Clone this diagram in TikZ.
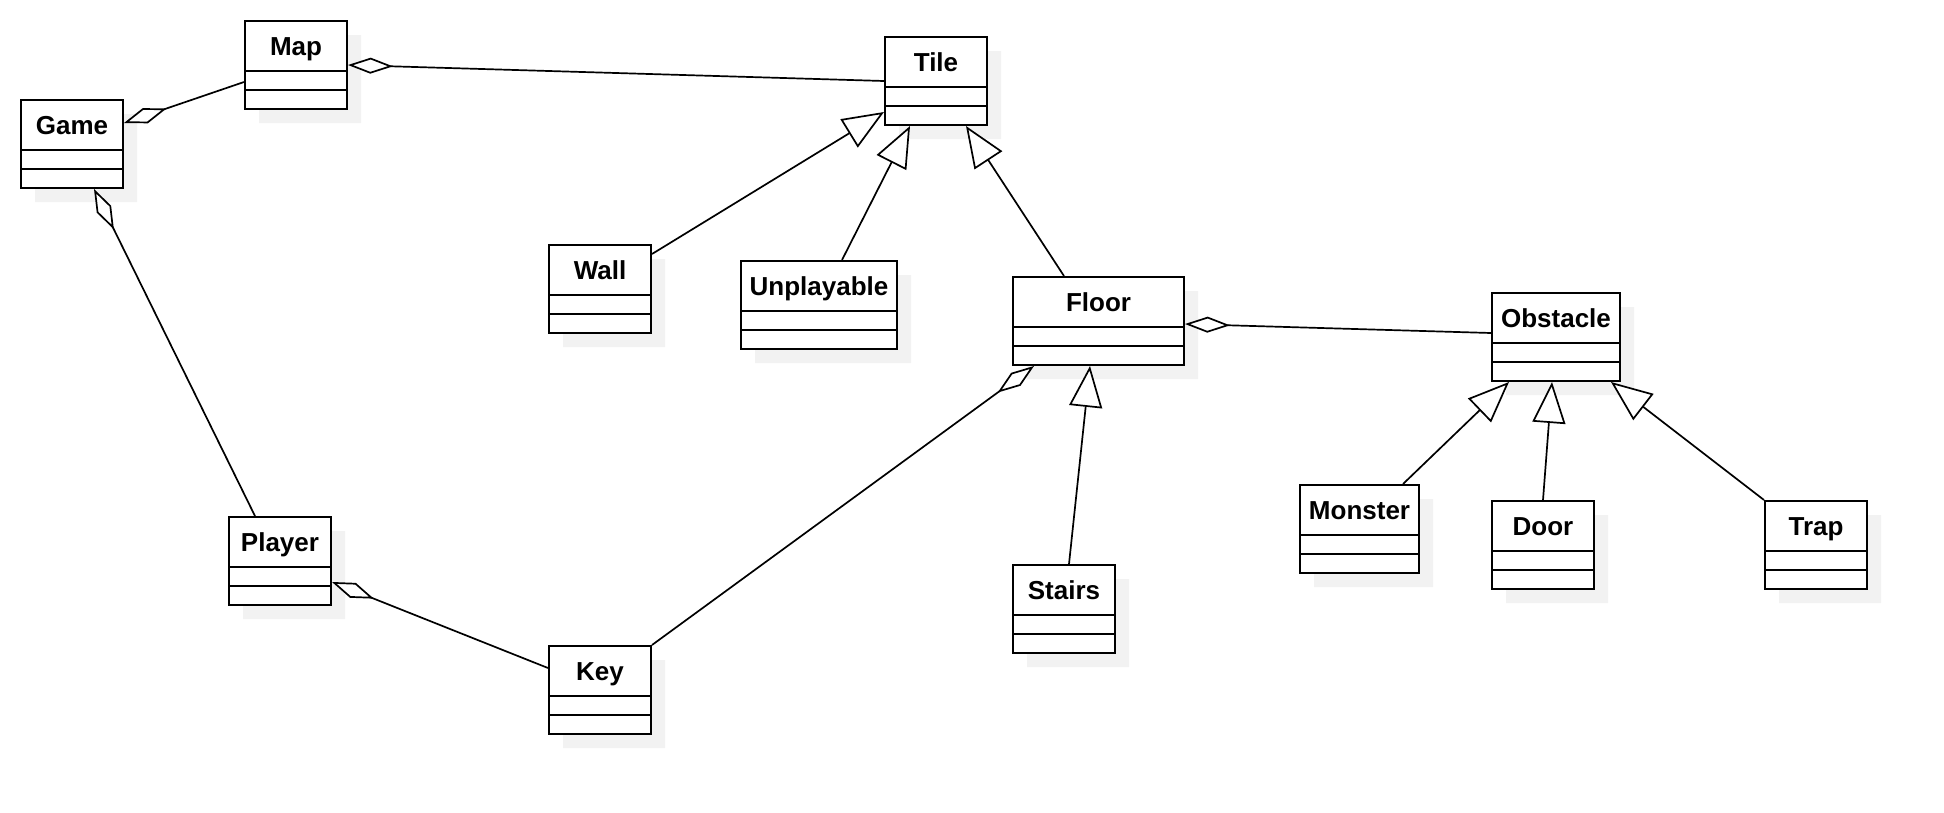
\documentclass[tikz,border=0pt]{standalone}
\usepackage{fontspec}
\setmainfont{Liberation Sans}
\usetikzlibrary{shapes.multipart,shadows,arrows.meta,calc}
\definecolor{shadowgray}{HTML}{F2F2F2}
\newcommand{\clsname}[1]{\rule[-15pt]{0pt}{48pt}#1}

\begin{document}
\begin{tikzpicture}[x=1pt, y=-1pt,
    cls/.style={rectangle split, rectangle split parts=3, draw, line width=2pt, fill=white,
      anchor=north west, inner xsep=0pt, inner ysep=0pt, minimum width=102pt,
      rectangle split empty part height=17pt, rectangle split empty part depth=0pt,
      font=\fontsize{26}{30}\selectfont\bfseries,
      drop shadow={shadow xshift=14pt, shadow yshift=-14pt, fill=shadowgray, opacity=1}},
    aggr/.style={line width=1.7pt, arrows={Diamond[fill=white,length=45pt,width=16pt]-}},
    gen/.style={line width=1.7pt, arrows={-Triangle[fill=white,length=41pt,width=33pt]}}]
        \useasboundingbox (0,0) rectangle (1944,812);

        % Classes
        \node[cls] (game) at (20,99) {\clsname{Game}\nodepart{two}\nodepart{three}};
        \node[cls] (map) at (244,20) {\clsname{Map}\nodepart{two}\nodepart{three}};
        \node[cls] (tile) at (884,36) {\clsname{Tile}\nodepart{two}\nodepart{three}};
        \node[cls] (wall) at (548,244) {\clsname{Wall}\nodepart{two}\nodepart{three}};
        \node[cls, minimum width=156pt] (unplayable) at (740,260) {\clsname{Unplayable}\nodepart{two}\nodepart{three}};
        \node[cls, minimum width=171pt] (floor) at (1012,276) {\clsname{Floor}\nodepart{two}\nodepart{three}};
        \node[cls, minimum width=128pt] (obstacle) at (1491,292) {\clsname{Obstacle}\nodepart{two}\nodepart{three}};
        \node[cls] (player) at (228,516) {\clsname{Player}\nodepart{two}\nodepart{three}};
        \node[cls] (key) at (548,645) {\clsname{Key}\nodepart{two}\nodepart{three}};
        \node[cls] (stairs) at (1012,564) {\clsname{Stairs}\nodepart{two}\nodepart{three}};
        \node[cls, minimum width=119pt] (monster) at (1299,484) {\clsname{Monster}\nodepart{two}\nodepart{three}};
        \node[cls] (door) at (1491,500) {\clsname{Door}\nodepart{two}\nodepart{three}};
        \node[cls] (trap) at (1764,500) {\clsname{Trap}\nodepart{two}\nodepart{three}};

        % Aggregations
        \draw[aggr] ($(game.north east)+(0,24)$) -- ($(map.north west)+(0,62)$);
        \draw[aggr] (map.east) -- (tile.west);
        \draw[aggr] ($(game.south west)+(74,0)$) -- ($(player.north west)+(27,0)$);
        \draw[aggr] ($(player.north east)+(0,66)$) -- ($(key.north west)+(0,23)$);
        \draw[aggr] ($(floor.south west)+(22,0)$) -- (key.north east);
        \draw[aggr] ($(floor.north east)+(0,48)$) -- ($(obstacle.north west)+(0,41)$);

        % Generalizations
        \draw[gen] ($(wall.north east)+(0,10)$) -- ($(tile.north west)+(0,76)$);
        \draw[gen] ($(unplayable.north west)+(102,0)$) -- ($(tile.south west)+(26,0)$);
        \draw[gen] ($(floor.north west)+(52,0)$) -- ($(tile.south west)+(82,0)$);
        \draw[gen] ($(stairs.north west)+(57,0)$) -- ($(floor.south west)+(78,0)$);
        \draw[gen] ($(monster.north west)+(104,0)$) -- ($(obstacle.south west)+(18,0)$);
        \draw[gen] ($(door.north west)+(52,0)$) -- ($(obstacle.south west)+(61,0)$);
        \draw[gen] (trap.north west) -- ($(obstacle.south west)+(120,0)$);
    \end{tikzpicture}
\end{document}
